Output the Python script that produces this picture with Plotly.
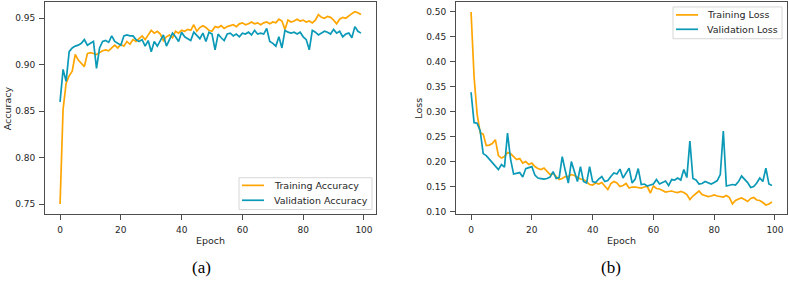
import plotly.graph_objects as go

epochs = list(range(100))

train_acc = [
    0.750, 0.852, 0.880, 0.888, 0.893, 0.911, 0.905, 0.901, 0.898, 0.912,
    0.913, 0.912, 0.911, 0.913, 0.915, 0.916, 0.915, 0.918, 0.921, 0.918,
    0.922, 0.920, 0.925, 0.922, 0.927, 0.925, 0.928, 0.931, 0.927, 0.932,
    0.937, 0.934, 0.936, 0.933, 0.926, 0.930, 0.932, 0.929, 0.936, 0.934,
    0.937, 0.936, 0.938, 0.937, 0.943, 0.936, 0.940, 0.942, 0.940, 0.937,
    0.936, 0.941, 0.940, 0.942, 0.939, 0.941, 0.942, 0.943, 0.941, 0.944,
    0.945, 0.943, 0.944, 0.946, 0.944, 0.945, 0.943, 0.945, 0.946, 0.944,
    0.946, 0.945, 0.949, 0.947, 0.938, 0.948, 0.946, 0.947, 0.949, 0.947,
    0.948, 0.946, 0.947, 0.945, 0.948, 0.954, 0.951, 0.950, 0.952, 0.951,
    0.948, 0.944, 0.949, 0.951, 0.950, 0.953, 0.955, 0.957, 0.956, 0.954,
]

val_acc = [
    0.860, 0.895, 0.882, 0.914, 0.918, 0.920, 0.921, 0.923, 0.927, 0.921,
    0.923, 0.925, 0.896, 0.918, 0.925, 0.926, 0.924, 0.931, 0.925, 0.923,
    0.921, 0.931, 0.932, 0.931, 0.931, 0.927, 0.925, 0.927, 0.920, 0.926,
    0.914, 0.925, 0.920, 0.926, 0.932, 0.920, 0.928, 0.934, 0.930, 0.925,
    0.935, 0.930, 0.928, 0.926, 0.935, 0.931, 0.928, 0.934, 0.925, 0.935,
    0.933, 0.916, 0.933, 0.929, 0.926, 0.933, 0.934, 0.931, 0.933, 0.930,
    0.934, 0.933, 0.935, 0.932, 0.937, 0.933, 0.934, 0.933, 0.939, 0.925,
    0.923, 0.920, 0.930, 0.918, 0.937, 0.935, 0.934, 0.935, 0.933, 0.935,
    0.930, 0.927, 0.916, 0.937, 0.935, 0.932, 0.934, 0.936, 0.935, 0.933,
    0.938, 0.934, 0.936, 0.930, 0.933, 0.934, 0.929, 0.941, 0.936, 0.934,
]

train_loss = [
    0.500, 0.370, 0.295, 0.258, 0.255, 0.232, 0.233, 0.236, 0.244, 0.212,
    0.207, 0.210, 0.218, 0.216, 0.210, 0.204, 0.206, 0.197, 0.200, 0.194,
    0.197, 0.190, 0.186, 0.184, 0.187, 0.180, 0.174, 0.176, 0.170, 0.164,
    0.166, 0.170, 0.170, 0.174, 0.172, 0.168, 0.165, 0.164, 0.160, 0.154,
    0.153, 0.157, 0.155, 0.158, 0.152, 0.144, 0.156, 0.160, 0.157, 0.150,
    0.152, 0.156, 0.147, 0.149, 0.149, 0.148, 0.147, 0.149, 0.150, 0.137,
    0.151, 0.146, 0.145, 0.142, 0.139, 0.140, 0.141, 0.139, 0.138, 0.140,
    0.138, 0.134, 0.124, 0.131, 0.136, 0.141, 0.134, 0.132, 0.130, 0.131,
    0.133, 0.131, 0.130, 0.129, 0.132, 0.128, 0.115, 0.122, 0.125, 0.127,
    0.124, 0.120, 0.126, 0.128, 0.123, 0.122, 0.118, 0.113, 0.115, 0.119,
]

val_loss = [
    0.339, 0.278, 0.277, 0.262, 0.216, 0.212, 0.205, 0.198, 0.191, 0.184,
    0.194, 0.189, 0.257, 0.205, 0.175, 0.176, 0.178, 0.169, 0.186, 0.188,
    0.190, 0.173, 0.167, 0.166, 0.165, 0.166, 0.169, 0.180, 0.166, 0.168,
    0.210, 0.182, 0.157, 0.200, 0.178, 0.160, 0.190, 0.160, 0.157, 0.190,
    0.160, 0.158, 0.165, 0.170, 0.160, 0.162, 0.170, 0.177, 0.175, 0.185,
    0.167, 0.178, 0.187, 0.157, 0.165, 0.186, 0.154, 0.155, 0.151, 0.153,
    0.155, 0.164, 0.155, 0.158, 0.161, 0.152, 0.164, 0.163, 0.167, 0.163,
    0.184, 0.168, 0.241, 0.166, 0.163, 0.155, 0.156, 0.160, 0.157, 0.155,
    0.158, 0.162, 0.174, 0.261, 0.151, 0.152, 0.154, 0.153, 0.160, 0.171,
    0.164, 0.158, 0.148, 0.150, 0.157, 0.167, 0.160, 0.187, 0.155, 0.152,
]

x_ticks = [0, 20, 40, 60, 80, 100]
acc_ticks = [0.75, 0.80, 0.85, 0.90, 0.95]
loss_ticks = [0.10, 0.15, 0.20, 0.25, 0.30, 0.35, 0.40, 0.45, 0.50]

acc_names = ["Training Accuracy", "Validation Accuracy"]
loss_names = ["Training Loss", "Validation Loss"]
captions = ["(a)", "(b)"]

ORANGE = "#FFA500"
TEAL = "#0A99B6"
COLORS = [ORANGE, TEAL]
FONT = "DejaVu Sans"
TXT = "#262626"
W, H = 789, 281


def px(x):
    return x / W


def py(y):
    return 1 - y / H


fig = go.Figure()
for name, vals, col in zip(acc_names, [train_acc, val_acc], COLORS):
    fig.add_trace(go.Scatter(x=epochs, y=vals, mode="lines", name=name,
                             line=dict(color=col, width=1.7), xaxis="x", yaxis="y",
                             showlegend=False))
for name, vals, col in zip(loss_names, [train_loss, val_loss], COLORS):
    fig.add_trace(go.Scatter(x=epochs, y=vals, mode="lines", name=name,
                             line=dict(color=col, width=1.7), xaxis="x2", yaxis="y2",
                             showlegend=False))

ax_common = dict(showline=True, linecolor="#4d4d4d", linewidth=1, mirror=True,
                 ticks="outside", ticklen=5, tickcolor="#4d4d4d", tickwidth=1,
                 showgrid=False, zeroline=False, ticklabelstandoff=2,
                 tickfont=dict(family=FONT, size=9, color=TXT))

# axes geometry (pixels)
L1, R1 = 45, 376
L2, R2 = 456, 787
TOP, BOT = 2, 216
yd = [py(BOT), py(TOP)]

shapes = []
annotations = []

# manual legends (matplotlib style)
legends = [
    dict(box=(239, 179, 372, 211), rows=[186.7, 201.7], line=(242, 264), text_x=272, names=acc_names),
    dict(box=(673, 7, 782, 39), rows=[15.0, 29.5], line=(676, 698), text_x=705, names=loss_names),
]
for lg in legends:
    x0, y0, x1, y1 = lg["box"]
    shapes.append(dict(type="rect", xref="paper", yref="paper",
                       x0=px(x0), x1=px(x1), y0=py(y1), y1=py(y0),
                       fillcolor="rgba(255,255,255,0.8)", line=dict(color="#d6d6d6", width=1)))
    for yr, name, col in zip(lg["rows"], lg["names"], COLORS):
        shapes.append(dict(type="line", xref="paper", yref="paper",
                           x0=px(lg["line"][0]), x1=px(lg["line"][1]), y0=py(yr), y1=py(yr),
                           line=dict(color=col, width=1.7)))
        annotations.append(dict(text=name, x=px(lg["text_x"]), y=py(yr), xref="paper", yref="paper",
                                xanchor="left", yanchor="middle", showarrow=False,
                                font=dict(family=FONT, size=9.5, color=TXT)))

# axis titles
for text, x, y, ang in [("Accuracy", 7, (TOP + BOT) / 2, -90), ("Loss", 418.5, (TOP + BOT) / 2, -90),
                        ("Epoch", (L1 + R1) / 2, 242, 0), ("Epoch", (L2 + R2) / 2, 242, 0)]:
    annotations.append(dict(text=text, x=px(x), y=py(y), xref="paper", yref="paper",
                            xanchor="center", yanchor="middle", showarrow=False, textangle=ang,
                            font=dict(family=FONT, size=9.5, color=TXT)))

# captions
for text, x in zip(captions, [201, 611]):
    annotations.append(dict(text=text, x=px(x), y=py(269), xref="paper", yref="paper",
                            xanchor="center", yanchor="middle", showarrow=False,
                            font=dict(family="Liberation Serif", size=17, color="#000000")))

fig.update_layout(
    width=W, height=H,
    margin=dict(l=0, r=0, t=0, b=0),
    paper_bgcolor="white", plot_bgcolor="white",
    showlegend=False,
    xaxis=dict(domain=[px(L1), px(R1)], range=[-4.95, 103.95], tickvals=x_ticks,
               anchor="y", **ax_common),
    yaxis=dict(domain=yd, range=[0.7388, 0.9675], tickvals=acc_ticks, tickformat=".2f",
               anchor="x", **ax_common),
    xaxis2=dict(domain=[px(L2), px(R2)], range=[-4.95, 103.95], tickvals=x_ticks,
                anchor="y2", **ax_common),
    yaxis2=dict(domain=yd, range=[0.094, 0.520], tickvals=loss_ticks, tickformat=".2f",
                anchor="x2", **ax_common),
    shapes=shapes,
    annotations=annotations,
)

fig.write_html("out.html",
               config={"displayModeBar": False},
               post_script="document.body.style.margin='0';document.body.style.overflow='hidden';")
